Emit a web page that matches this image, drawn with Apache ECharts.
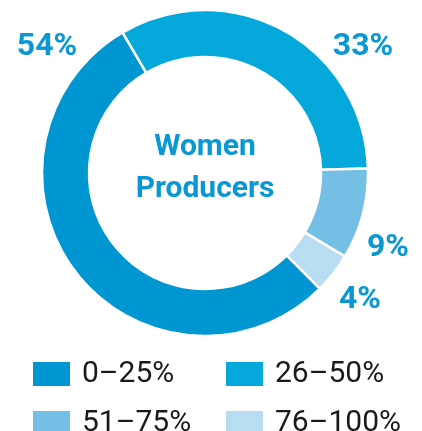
<!DOCTYPE html>
<html>
<head>
<meta charset="utf-8">
<script src="https://cdn.jsdelivr.net/npm/echarts@6/dist/echarts.min.js"></script>
<style>
  html, body { margin: 0; padding: 0; background: #fff; }
  #chart { width: 422px; height: 431px; }
</style>
</head>
<body>
<div id="chart"></div>
<script>
// data
const categories = ['0–25%', '26–50%', '51–75%', '76–100%'];
const shares = [54, 33, 9, 4];
const colors = ['#0096d1', '#04a8da', '#74bfe4', '#b8dcf0'];
// where each percentage label sits (px)
const labelSpots = [[47, 47], [363, 47], [388, 248], [360, 300]];

const chart = echarts.init(document.getElementById('chart'));

const legendBase = {
    orient: 'vertical',
    top: 359,
    height: 100,
    padding: 0,
    icon: 'rect',
    itemWidth: 39,
    itemHeight: 26,
    itemGap: 19,
    selectedMode: false,
    textStyle: {
        fontFamily: 'Roboto',
        fontSize: 30,
        lineHeight: 26,
        color: '#1a1a1a',
        padding: [0, 0, 0, 6]
    }
};

let option = {
    animation: false,
    color: colors,
    legend: [
        Object.assign({}, legendBase, { left: 31, data: [categories[0], categories[2]] }),
        Object.assign({}, legendBase, { left: 224, data: [categories[1], categories[3]] })
    ],
    graphic: [{
        type: 'text',
        x: 205,
        y: 168,
        style: {
            text: 'Women\nProducers',
            fill: '#0a98d4',
            font: 'bold 30px Roboto',
            align: 'center',
            verticalAlign: 'middle',
            lineHeight: 42
        }
    }],
    series: [{
        type: 'pie',
        center: [205, 173],
        radius: [116, 163],
        startAngle: -45.2,
        clockwise: true,
        avoidLabelOverlap: false,
        itemStyle: {
            borderColor: '#fff',
            borderWidth: 2.5
        },
        label: {
            show: true,
            position: 'inside',
            overflow: 'none',
            formatter: '{c}%',
            fontFamily: 'Roboto',
            fontWeight: 'bold',
            fontSize: 32,
            color: '#0a98d4'
        },
        labelLine: { show: false },
        labelLayout: function (params) {
            const p = labelSpots[params.dataIndex];
            return { x: p[0], y: p[1], align: 'center', verticalAlign: 'middle', hideOverlap: false };
        },
        emphasis: { disabled: true },
        data: categories.map((c, i) => ({ name: c, value: shares[i] }))
    }]
};

chart.setOption(option);
</script>
</body>
</html>
